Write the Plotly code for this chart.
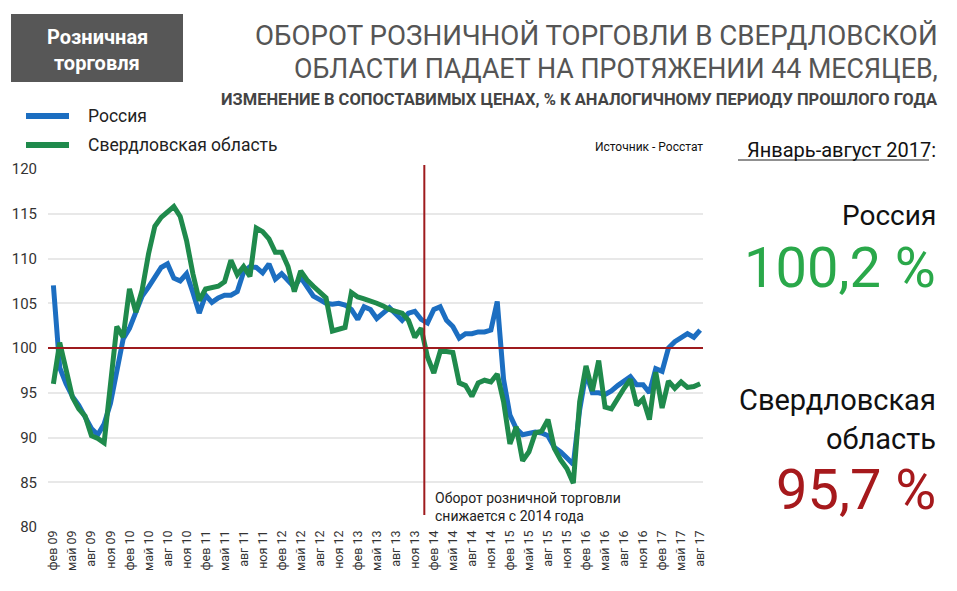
import plotly.graph_objects as go

# ---------------- data ----------------
month_names = ["янв", "фев", "мар", "апр", "май", "июн", "июл", "авг", "сен", "окт", "ноя", "дек"]
years = ["09", "10", "11", "12", "13", "14", "15", "16", "17"]
categories = [f"{m} {y}" for y in years for m in month_names][1:-4]  # фев 09 .. авг 17

tick_labels = ["фев 09", "май 09", "авг 09", "ноя 09", "фев 10", "май 10", "авг 10", "ноя 10",
               "фев 11", "май 11", "авг 11", "ноя 11", "фев 12", "май 12", "авг 12", "ноя 12",
               "фев 13", "май 13", "авг 13", "ноя 13", "фев 14", "май 14", "авг 14", "ноя 14",
               "фев 15", "май 15", "авг 15", "ноя 15", "фев 16", "май 16", "авг 16", "ноя 16",
               "фев 17", "май 17", "авг 17"]

russia = [107.0, 97.8, 96.0, 94.6, 93.6, 92.4, 91.0, 90.3, 91.5, 93.8,
          97.5, 101.0, 102.2, 104.0, 105.8, 106.8, 107.8, 109.0, 109.4, 107.8,
          107.5, 108.3, 106.2, 103.9, 105.9, 105.1, 105.6, 105.9, 105.9, 106.3,
          108.5, 109.1, 109.0, 108.4, 109.4, 107.7, 108.3, 107.5, 106.8, 107.9,
          106.8, 105.8, 105.4, 105.0, 104.9, 105.0, 104.8, 104.3, 103.2, 104.6,
          104.3, 103.3, 103.9, 104.5, 103.8, 103.1, 103.9, 104.1, 103.2, 102.8,
          104.3, 104.6, 103.1, 102.4, 101.1, 101.6, 101.6, 101.8, 101.8, 102.0,
          105.2, 96.5, 92.5, 91.0, 90.3, 90.4, 90.6, 90.5, 90.2, 88.9,
          88.4, 87.7, 87.0, 93.1, 97.2, 95.0, 95.0, 94.8, 95.2, 95.8,
          96.3, 96.8, 95.9, 95.9, 95.0, 97.7, 97.4, 100.0, 100.7, 101.2,
          101.6, 101.2, 102.0]

sverdlovsk = [96.0, 100.6, 97.6, 94.5, 93.2, 92.4, 90.2, 89.9, 89.4, 96.5,
              102.4, 101.2, 106.6, 104.0, 106.5, 110.5, 113.6, 114.6, 115.2, 115.8,
              114.7, 112.0, 108.3, 105.3, 106.6, 106.8, 106.9, 107.4, 109.8, 108.2,
              109.1, 108.0, 113.4, 113.0, 112.2, 110.7, 110.7, 109.1, 106.3, 108.6,
              107.6, 106.9, 106.2, 105.6, 101.9, 102.1, 102.3, 106.2, 105.7, 105.5,
              105.3, 105.0, 104.7, 104.3, 104.1, 103.9, 103.1, 101.2, 102.2, 99.0,
              97.2, 99.6, 99.6, 99.5, 96.1, 95.8, 94.6, 96.1, 96.4, 96.2,
              97.1, 94.0, 89.3, 91.2, 87.4, 88.4, 90.5, 90.7, 92.0, 88.8,
              87.5, 86.5, 84.9, 94.0, 98.0, 95.2, 98.6, 93.4, 93.2, 94.4,
              95.5, 96.5, 93.6, 94.3, 92.0, 97.3, 93.3, 96.3, 95.5, 96.2,
              95.6, 95.7, 96.0]

BLUE = "#1c6ec1"
GREEN = "#1f8a4c"
RED = "#9e1b1e"
FONT = "Roboto"

# ---------------- layout helpers (pixel -> paper) ----------------
W, H = 957, 591
L, R, T, B = 48, 703, 169, 527


def px(x):
    return (x - L) / (R - L)


def py(y):
    return (B - y) / (B - T)


fig = go.Figure()
fig.add_trace(go.Scatter(x=categories, y=russia, mode="lines", name="Россия",
                         line=dict(color=BLUE, width=5), showlegend=False))
fig.add_trace(go.Scatter(x=categories, y=sverdlovsk, mode="lines", name="Свердловская область",
                         line=dict(color=GREEN, width=5), showlegend=False))

shapes = [
    # header box
    dict(type="rect", xref="paper", yref="paper", x0=px(11), x1=px(183), y0=py(82), y1=py(14),
         fillcolor="#575757", line=dict(width=0), layer="above"),
    # legend lines
    dict(type="line", xref="paper", yref="paper", x0=px(26), x1=px(69), y0=py(116), y1=py(116),
         line=dict(color=BLUE, width=6)),
    dict(type="line", xref="paper", yref="paper", x0=px(26), x1=px(69), y0=py(145), y1=py(145),
         line=dict(color=GREEN, width=6)),
    # reference lines
    dict(type="line", xref="paper", yref="y", x0=0, x1=1, y0=100, y1=100,
         line=dict(color=RED, width=2), layer="above"),
    dict(type="line", xref="x", yref="paper", x0=58.5, x1=58.5, y0=py(515), y1=py(165),
         line=dict(color=RED, width=2), layer="above"),
    # underline
    dict(type="line", xref="paper", yref="paper", x0=px(738), x1=px(929), y0=py(160), y1=py(160),
         line=dict(color="#222", width=1.2)),
]


def ann(text, x, y, size, color="#222", xanchor="left", bold=False, align="left"):
    return dict(text=f"<b>{text}</b>" if bold else text, x=px(x), y=py(y), xref="paper", yref="paper",
                xanchor=xanchor, yanchor="middle", showarrow=False, align=align,
                font=dict(family=FONT, size=size, color=color))


annotations = [
    ann("Розничная", 97, 37, 20, "white", "center", bold=True),
    ann("торговля", 97, 63, 20, "white", "center", bold=True),
    ann("ОБОРОТ РОЗНИЧНОЙ ТОРГОВЛИ В СВЕРДЛОВСКОЙ", 940, 35, 27.7, "#555", "right"),
    ann("ОБЛАСТИ ПАДАЕТ НА ПРОТЯЖЕНИИ 44 МЕСЯЦЕВ,", 940, 69, 26.8, "#555", "right"),
    ann("ИЗМЕНЕНИЕ В СОПОСТАВИМЫХ ЦЕНАХ, % К АНАЛОГИЧНОМУ ПЕРИОДУ ПРОШЛОГО ГОДА", 940, 99, 16.5, "#444",
        "right", bold=True),
    ann("Россия", 86, 116, 17.5, "#222"),
    ann("Свердловская область", 86, 145, 17.5, "#222"),
    ann("Источник - Росстат", 705, 147, 12, "#111", "right"),
    ann("Январь-август 2017:", 938, 150, 20, "#111", "right"),
    ann("Россия", 938, 216, 28, "#111", "right"),
    ann("100,2 %", 938, 268, 56, "#2aa84a", "right"),
    ann("Свердловская", 938, 400, 29, "#111", "right"),
    ann("область", 938, 439, 29, "#111", "right"),
    ann("95,7 %", 938, 490, 56, "#a6191c", "right"),
    ann("Оборот розничной торговли<br>снижается с 2014 года", 433, 507, 14, "#222", "left"),
]

fig.update_layout(
    width=W, height=H,
    margin=dict(l=L, r=W - R, t=T, b=H - B),
    paper_bgcolor="white", plot_bgcolor="white",
    shapes=shapes, annotations=annotations,
    font=dict(family=FONT, color="#333"),
    xaxis=dict(type="category", range=[-0.85, 102.45], tickmode="array",
               tickvals=tick_labels, ticktext=tick_labels, tickangle=-90,
               tickfont=dict(size=12.5, color="#333", family=FONT),
               showgrid=False, showline=False, zeroline=False, ticks=""),
    yaxis=dict(range=[80, 120], dtick=5, tick0=80, showgrid=True, gridcolor="#e8e8e8", gridwidth=1.5,
               zeroline=False, showline=False, ticks="", ticklabelstandoff=10,
               tickfont=dict(size=15, color="#333", family=FONT)),
)

fig.write_html("out.html")
